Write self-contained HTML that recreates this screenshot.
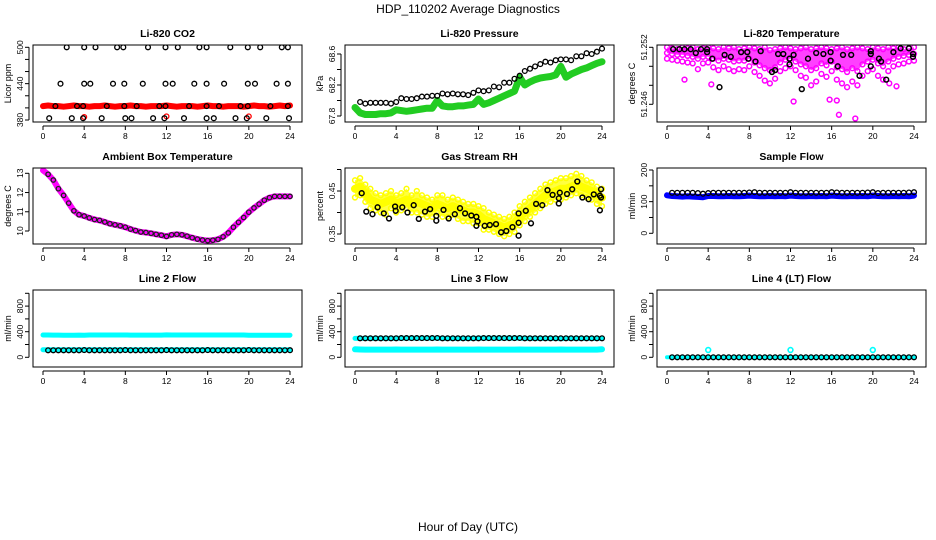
<!DOCTYPE html>
<html><head><meta charset="utf-8"><style>
html,body{margin:0;padding:0;background:#fff;}
svg{display:block;font-family:"Liberation Sans",Helvetica,sans-serif;}
</style></head><body>
<svg id="c" width="936" height="540" viewBox="0 0 936 540" xmlns="http://www.w3.org/2000/svg">
<text x="468" y="13" text-anchor="middle" font-size="12">HDP_110202  Average Diagnostics</text>
<text x="468" y="531" text-anchor="middle" font-size="12">Hour of Day (UTC)</text>
</svg>
<script>
// ---- data ----
const xTicks = [0,4,8,12,16,20,24];
const co2Red = [403,404,403,403,402,403,404,403,403,402,403,403,404,403,402,403,403,404,403,403,402,403,403,403,404,403,402,403,403,403,402,403,404,403,403,402,403,403,403,402,403,404,403,403,402,403,404,403,404];
const co2RedOutH = [4,12,20];
const co2RedOutV = [385,386,386];
const co2BlackH = [2.3,4.0,5.1,7.2,7.8,10.2,11.9,13.1,15.2,15.9,18.2,19.9,21.1,23.2,23.8, 1.7,4.0,4.6,6.8,7.9,9.7,11.9,12.6,14.7,15.9,17.6,19.9,20.6,22.7,23.8, 1.2,3.3,3.9,6.2,7.9,9.1,11.3,11.9,14.2,15.9,17.1,19.2,19.9,22.1,23.8, 0.6,2.8,3.9,5.7,8.0,8.6,10.7,11.8,13.7,15.9,16.6,18.7,19.8,21.7,23.9];
const co2BlackV = [500,500,500,500,500,500,500,500,500,500,500,500,500,500,500, 440,440,440,440,440,440,440,440,440,440,440,440,440,440,440, 403,403,403,403,403,403,403,403,403,403,403,403,403,403,403, 383,383,383,383,383,383,383,383,383,383,383,383,383,383,383];
const presGreen = [67.91,67.84,67.82,67.82,67.82,67.83,67.83,67.84,67.88,67.87,67.86,67.87,67.88,67.89,67.9,67.9,68.0,67.93,67.92,67.92,67.93,67.93,67.94,67.95,68.02,67.95,67.97,68.0,68.03,68.06,68.09,68.12,68.3,68.2,68.24,68.27,68.29,68.3,68.31,68.33,68.44,68.3,68.34,68.37,68.4,68.42,68.45,68.48,68.5];
const presBlack = [67.98,67.96,67.97,67.97,67.97,67.97,67.96,67.98,68.03,68.02,68.02,68.03,68.05,68.05,68.06,68.06,68.09,68.08,68.09,68.08,68.08,68.07,68.1,68.13,68.12,68.13,68.18,68.17,68.23,68.23,68.28,68.32,68.38,68.41,68.44,68.47,68.5,68.49,68.52,68.53,68.53,68.52,68.57,68.57,68.61,68.6,68.63,68.67];
const tempHi = [51.2520,51.2519,51.2518,51.2520,51.2519,51.2520,51.2518,51.2519,51.2520,51.2519,51.2518,51.2520,51.2519,51.2520,51.2518,51.2519,51.2520,51.2519,51.2518,51.2520,51.2517,51.2518,51.2519,51.2520,51.2519,51.2518,51.2519,51.2520,51.2518,51.2519,51.2520,51.2519,51.2518,51.2519,51.2520,51.2518,51.2519,51.2520,51.2519,51.2518,51.2520,51.2519,51.2518,51.2520,51.2519,51.2520,51.2518,51.2519,51.2520];
const tempMid = [51.2514,51.2513,51.2512,51.2512,51.2511,51.2510,51.2508,51.2510,51.2510,51.2508,51.2506,51.2508,51.2507,51.2505,51.2506,51.2506,51.2508,51.2504,51.2501,51.2498,51.2496,51.2499,51.2504,51.2507,51.2508,51.2505,51.2502,51.2500,51.2496,51.2498,51.2503,51.2501,51.2505,51.2499,51.2497,51.2494,51.2498,51.2495,51.2502,51.2505,51.2507,51.2503,51.2500,51.2505,51.2508,51.2510,51.2511,51.2512,51.2513];
const tempLo = [51.2508,51.2507,51.2506,51.2505,51.2504,51.2503,51.2497,51.2503,51.2504,51.2499,51.2496,51.2500,51.2497,51.2495,51.2497,51.2496,51.2500,51.2494,51.2490,51.2485,51.2482,51.2487,51.2495,51.2498,51.2500,51.2496,51.2490,51.2488,51.2480,51.2484,51.2492,51.2489,51.2495,51.2486,51.2482,51.2478,51.2484,51.2480,51.2490,51.2495,51.2497,51.2490,51.2486,51.2495,51.2500,51.2502,51.2503,51.2505,51.2506];
const tempOutH = [1.7,4.3,12.3,15.8,16.5,16.7,18.3,21.6,22.3];
const tempOutV = [51.2486,51.2481,51.2463,51.2465,51.2464,51.2449,51.2445,51.2482,51.2479];
const tempBlackH = [0.6,1.2,1.7,2.3,2.8,3.3,3.9,3.9,4.4,5.1,5.6,6.2,7.2,7.8,7.9,8.6,9.1,10.2,10.5,10.8,11.3,11.9,11.9,12.3,13.1,13.7,14.5,15.2,15.9,15.9,16.6,17.1,17.9,18.7,19.8,19.8,19.8,20.6,20.8,21.3,22.0,22.7,23.5,23.9,23.9];
const tempBlackV = [51.2518,51.2518,51.2518,51.2518,51.2514,51.2518,51.2518,51.2515,51.2508,51.2478,51.2512,51.2510,51.2515,51.2515,51.2508,51.2505,51.2516,51.2494,51.2496,51.2513,51.2513,51.2508,51.2502,51.2512,51.2476,51.2508,51.2514,51.2513,51.2506,51.2515,51.2500,51.2512,51.2512,51.2490,51.2500,51.2513,51.2516,51.2508,51.2505,51.2486,51.2515,51.2519,51.2519,51.2510,51.2513];
const ambMag = [13.15,12.95,12.65,12.2,11.85,11.45,11.05,10.85,10.78,10.68,10.6,10.55,10.47,10.38,10.32,10.27,10.2,10.1,10.02,9.95,9.92,9.88,9.83,9.78,9.72,9.8,9.83,9.8,9.73,9.65,9.58,9.53,9.5,9.52,9.57,9.7,9.9,10.2,10.45,10.7,10.98,11.2,11.4,11.6,11.73,11.8,11.8,11.8,11.8];
const ambBlack = [12.95,12.65,12.2,11.85,11.45,11.05,10.85,10.78,10.68,10.6,10.55,10.47,10.38,10.32,10.27,10.2,10.1,10.02,9.95,9.92,9.88,9.83,9.78,9.72,9.8,9.83,9.8,9.73,9.65,9.58,9.53,9.5,9.52,9.57,9.7,9.9,10.2,10.45,10.7,10.98,11.2,11.4,11.6,11.73,11.8,11.8,11.8,11.8];
const rhMid = [0.455,0.46,0.445,0.43,0.425,0.42,0.425,0.43,0.42,0.425,0.43,0.42,0.425,0.42,0.415,0.41,0.42,0.415,0.41,0.415,0.41,0.405,0.4,0.4,0.395,0.385,0.38,0.375,0.37,0.365,0.37,0.375,0.39,0.4,0.41,0.42,0.43,0.44,0.445,0.45,0.455,0.455,0.46,0.465,0.46,0.455,0.45,0.44,0.435];
const rhUp = [0.475,0.48,0.465,0.455,0.445,0.44,0.445,0.45,0.44,0.445,0.455,0.44,0.45,0.44,0.435,0.43,0.44,0.44,0.43,0.435,0.43,0.425,0.42,0.42,0.415,0.41,0.4,0.395,0.39,0.385,0.39,0.4,0.415,0.425,0.435,0.445,0.455,0.465,0.47,0.475,0.48,0.48,0.485,0.49,0.485,0.475,0.47,0.46,0.455];
const rhLo = [0.435,0.44,0.425,0.41,0.405,0.4,0.395,0.41,0.4,0.405,0.41,0.4,0.4,0.395,0.39,0.39,0.4,0.39,0.39,0.395,0.385,0.38,0.38,0.375,0.375,0.36,0.36,0.355,0.35,0.345,0.35,0.355,0.37,0.38,0.39,0.4,0.41,0.42,0.425,0.43,0.43,0.435,0.44,0.445,0.44,0.435,0.43,0.42,0.415];
const rhBlackH = [0.65,1.1,1.7,2.2,2.8,3.3,3.9,3.95,4.6,5.1,5.7,6.2,6.8,7.3,7.9,7.9,8.6,9.1,9.7,10.2,10.7,11.3,11.8,11.8,11.9,12.6,13.1,13.7,14.2,14.7,15.3,15.9,15.9,15.9,16.6,17.1,17.6,18.2,18.7,19.2,19.8,19.8,19.9,20.6,21.1,21.6,22.1,22.7,23.2,23.8,23.8,23.9,23.9];
const rhBlackV = [0.445,0.402,0.396,0.412,0.398,0.386,0.414,0.404,0.412,0.4,0.417,0.385,0.402,0.408,0.392,0.381,0.406,0.386,0.396,0.41,0.398,0.393,0.39,0.369,0.379,0.369,0.371,0.373,0.354,0.357,0.366,0.398,0.376,0.346,0.404,0.375,0.42,0.417,0.452,0.441,0.433,0.421,0.446,0.443,0.454,0.472,0.435,0.431,0.442,0.439,0.405,0.454,0.435];
const sampBlue = [120,118,117,116,117,116,115,114,118,118,117,117,118,117,117,118,119,118,117,117,118,117,118,117,119,118,117,117,118,117,118,117,119,118,117,117,118,117,118,117,119,118,117,117,118,117,118,117,119];
const sampBlack = [128,128,128,128,128,127,125,127,128,128,128,128,128,128,128,129,130,128,128,128,128,128,128,130,128,128,128,128,128,128,128,130,129,128,128,128,128,128,129,130,127,128,128,128,128,128,129,130];
const l2CyanUp = [348,348,347,347,346,346,346,347,345,348,348,348,348,348,348,348,348,347,347,347,347,347,347,347,350,348,348,348,348,348,348,348,348,348,348,348,348,348,348,348,346,344,344,344,344,344,344,344,346];
const l2CyanLo = [118,118,117,117,117,117,117,117,117,117,117,117,117,117,117,117,117,117,117,117,117,117,117,117,117,117,117,117,117,117,117,117,117,117,117,117,117,117,117,117,117,117,117,117,117,117,117,117,117];
const l2Black = [110,110,110,110,110,110,110,112,110,110,110,110,110,110,110,112,110,110,110,110,110,110,110,113,110,110,110,110,110,110,110,112,110,110,110,110,110,110,110,112,110,110,110,110,110,110,110,111];
const l3CyanUp = [295,296,296,296,296,296,296,296,296,300,300,300,300,300,300,300,300,296,296,296,296,296,296,296,300,300,300,300,300,300,300,300,300,296,296,296,296,296,296,296,290,296,296,296,296,296,296,296,296];
const l3CyanLo = [125,122,120,120,120,120,120,120,122,120,120,120,120,120,120,120,122,120,120,120,120,120,120,120,122,120,120,120,120,120,120,120,122,120,120,120,120,120,120,120,122,120,120,120,120,120,120,120,125];
const l3Black = [297,297,297,297,297,297,297,297,300,300,300,300,300,300,300,302,297,297,297,297,297,297,297,297,300,300,300,300,300,300,300,302,297,297,297,297,297,297,297,297,297,297,297,297,297,297,297,297];
const l4Cyan = [0,0,0,0,0,0,0,0,0,0,0,0,0,0,0,0,0,0,0,0,0,0,0,0,0,0,0,0,0,0,0,0,0,0,0,0,0,0,0,0,0,0,0,0,0,0,0,0,0];
const l4Black = [0,0,0,0,0,0,0,0,0,0,0,0,0,0,0,0,0,0,0,0,0,0,0,0,0,0,0,0,0,0,0,0,0,0,0,0,0,0,0,0,0,0,0,0,0,0,0,0];
const l4OutH = [4,12,20];
const l4OutV = [114,114,114];

// ---- helpers ----
const svg = document.getElementById('c');
const NS = 'http://www.w3.org/2000/svg';
function mk(tag, attrs, parent) {
  const e = document.createElementNS(NS, tag);
  for (const k in attrs) e.setAttribute(k, attrs[k]);
  (parent || svg).appendChild(e);
  return e;
}
const colOff = [0, 312, 624];
const rowTop = [45, 168, 290];
const rowBot = [122, 244, 367];
function halfHours(n) { const a = []; for (let i = 0; i < n; i++) a.push(i * 0.5); return a; }
function halfHoursFrom(n) { const a = []; for (let i = 0; i < n; i++) a.push(0.5 + i * 0.5); return a; }

function makePanel(name, col, row, title, ytitle, v1, p1, v2, p2, ticks, labels) {
  const cx = colOff[col], top = rowTop[row], bot = rowBot[row];
  const g = mk('g', {});
  
  
  const P = {
    g: g,
    x: h => cx + 43 + h * (247 / 24),
    y: v => p1 + (v - v1) * (p2 - p1) / (v2 - v1)
  };
  const clip = mk('clipPath', { id: 'clip-' + name }, g);
  mk('rect', { x: cx + 33, y: top, width: 269, height: bot - top }, clip);
  P.plot = mk('g', { 'clip-path': 'url(#clip-' + name + ')' }, g);
  
  
  const frame = mk('rect', { x: cx + 33, y: top, width: 269, height: bot - top, fill: 'none', stroke: '#000', 'stroke-width': 1 }, g);
  
  
  const t = mk('text', { x: cx + 167.5, y: top - 8, 'text-anchor': 'middle', 'font-size': 10.5, 'font-weight': 'bold' }, g);
  t.textContent = title;
  
  
  const xa = mk('g', {}, g);
  
  
  mk('line', { x1: P.x(xTicks[0]), x2: P.x(xTicks[xTicks.length - 1]), y1: bot + 4, y2: bot + 4, stroke: '#000' }, xa);
  xTicks.forEach(h => {
    mk('line', { x1: P.x(h), x2: P.x(h), y1: bot + 4, y2: bot + 8, stroke: '#000' }, xa);
    const l = mk('text', { x: P.x(h), y: bot + 17, 'text-anchor': 'middle', 'font-size': 8.5 }, xa);
    l.textContent = h;
    
    
  });
  const ya = mk('g', {}, g);
  
  
  const ax = cx + 29;
  mk('line', { x1: ax, x2: ax, y1: P.y(ticks[0]), y2: P.y(ticks[ticks.length - 1]), stroke: '#000' }, ya);
  ticks.forEach(v => mk('line', { x1: ax - 4, x2: ax, y1: P.y(v), y2: P.y(v), stroke: '#000' }, ya));
  labels.forEach(v => {
    const yy = P.y(v);
    const l = mk('text', { x: cx + 23, y: yy, 'text-anchor': 'middle', 'font-size': 8.5, transform: 'rotate(-90 ' + (cx + 23) + ' ' + yy + ')' }, ya);
    l.textContent = v;
    
    
  });
  const ym = (top + bot) / 2;
  const yt = mk('text', { x: cx + 11, y: ym, 'text-anchor': 'middle', 'font-size': 9, transform: 'rotate(-90 ' + (cx + 11) + ' ' + ym + ')' }, g);
  yt.textContent = ytitle;
  
  
  return P;
}
function band(P, hs, vs, color, w, name) {
  const pts = hs.map((h, i) => P.x(h).toFixed(1) + ',' + P.y(vs[i]).toFixed(1)).join(' ');
  const pl = mk('polyline', { points: pts, fill: 'none', stroke: color, 'stroke-width': w, 'stroke-linejoin': 'round', 'stroke-linecap': 'round' }, P.plot);
  
  
}
function area(P, hs, up, lo, color, name) {
  const a = hs.map((h, i) => P.x(h).toFixed(1) + ',' + P.y(up[i]).toFixed(1));
  const b = hs.map((h, i) => P.x(h).toFixed(1) + ',' + P.y(lo[i]).toFixed(1)).reverse();
  const pg = mk('polygon', { points: a.concat(b).join(' '), fill: color, opacity: 0.75 }, P.plot);
  
  
}
function pts(P, hs, vs, color, name, r, sw) {
  const g = mk('g', {}, P.plot);
  
  
  hs.forEach((h, i) => {
    const c = mk('circle', { cx: P.x(h).toFixed(1), cy: P.y(vs[i]).toFixed(1), r: r || 2.4, fill: 'none', stroke: color, 'stroke-width': sw || 1.3 }, g);
    
    
  });
}
const H49 = halfHours(49);
const H48 = halfHoursFrom(48);

let P = makePanel('co2', 0, 0, 'Li-820 CO2', 'Licor ppm', 380, 120, 500, 47.3, [380,400,420,440,460,480,500], [380,440,500]);
band(P, H49, co2Red, '#ff0000', 6, 'co2-red-series');
pts(P, co2RedOutH, co2RedOutV, '#ff0000', 'co2-red-outliers');
pts(P, co2BlackH, co2BlackV, '#000', 'co2-black-series');

P = makePanel('pressure', 1, 0, 'Li-820 Pressure', 'kPa', 67.8, 116, 68.6, 54, [67.8,68.0,68.2,68.4,68.6], [67.8,68.2,68.6]);
band(P, H49, presGreen, '#22cc22', 7, 'pressure-green-series');
pts(P, H48, presBlack, '#000', 'pressure-black-series');

P = makePanel('temperature', 2, 0, 'Li-820 Temperature', 'degrees C', 51.252, 47.3, 51.246, 104.3, [51.246,51.248,51.25,51.252], [51.246,51.252]);
area(P, H49, tempHi, tempMid, '#ff00ff', 'temperature-magenta-cloud');
pts(P, H49, tempHi, '#ff00ff', 'temperature-magenta-hi', 2.4, 1.5);
pts(P, H49, tempMid, '#ff00ff', 'temperature-magenta-mid', 2.4, 1.5);
pts(P, H49, tempLo, '#ff00ff', 'temperature-magenta-lo', 2.4, 1.5);
pts(P, tempOutH, tempOutV, '#ff00ff', 'temperature-magenta-outliers', 2.4, 1.5);
pts(P, tempBlackH, tempBlackV, '#000', 'temperature-black-series', 2.4, 1.5);

P = makePanel('ambient', 0, 1, 'Ambient Box Temperature', 'degrees C', 13, 173.3, 10, 231, [10,11,12,13], [10,11,12,13]);
band(P, H49, ambMag, '#ff00ff', 6, 'ambient-magenta-series');
pts(P, H48, ambBlack, '#222', 'ambient-black-series', 2.2, 1.3);

P = makePanel('rh', 1, 1, 'Gas Stream RH', 'percent', 0.45, 191, 0.35, 234, [0.35,0.40,0.45,0.50], [0.35,0.45]);
area(P, H49, rhUp, rhLo, '#ffff00', 'rh-yellow-cloud');
pts(P, H49, rhUp, '#ffff00', 'rh-yellow-upper', 2.4, 1.5);
pts(P, H49, rhLo, '#ffff00', 'rh-yellow-lower', 2.4, 1.5);
band(P, H49, rhMid, '#ffff00', 8, 'rh-yellow-series');
pts(P, rhBlackH, rhBlackV, '#000', 'rh-black-series', 2.4, 1.5);

P = makePanel('sample-flow', 2, 1, 'Sample Flow', 'ml/min', 200, 170, 0, 233.3, [0,50,100,150,200], [0,100,200]);
band(P, H49, sampBlue, '#0000ff', 6, 'sample-flow-blue-series');
pts(P, H48, sampBlack, '#000', 'sample-flow-black-series');

const flowTicks = [0,200,400,600,800,1000];
const flowLabels = [0,400,800];
P = makePanel('line2', 0, 2, 'Line 2 Flow', 'ml/min', 0, 357.3, 400, 331.7, flowTicks, flowLabels);
band(P, H49, l2CyanUp, '#00ffff', 5, 'line2-cyan-upper');
band(P, H49, l2CyanLo, '#00ffff', 5, 'line2-cyan-lower');
pts(P, H48, l2Black, '#000', 'line2-black-series');

P = makePanel('line3', 1, 2, 'Line 3 Flow', 'ml/min', 0, 357.3, 400, 331.7, flowTicks, flowLabels);
band(P, H49, l3CyanUp, '#00ffff', 5, 'line3-cyan-upper');
band(P, H49, l3CyanLo, '#00ffff', 6, 'line3-cyan-lower');
pts(P, H48, l3Black, '#000', 'line3-black-series');

P = makePanel('line4', 2, 2, 'Line 4 (LT) Flow', 'ml/min', 0, 357.3, 400, 331.7, flowTicks, flowLabels);
band(P, H49, l4Cyan, '#00ffff', 4, 'line4-cyan-series');
pts(P, H48, l4Black, '#000', 'line4-black-series');
pts(P, l4OutH, l4OutV, '#00ffff', 'line4-cyan-outliers', 2.4, 1.6);
</script>
</body></html>
